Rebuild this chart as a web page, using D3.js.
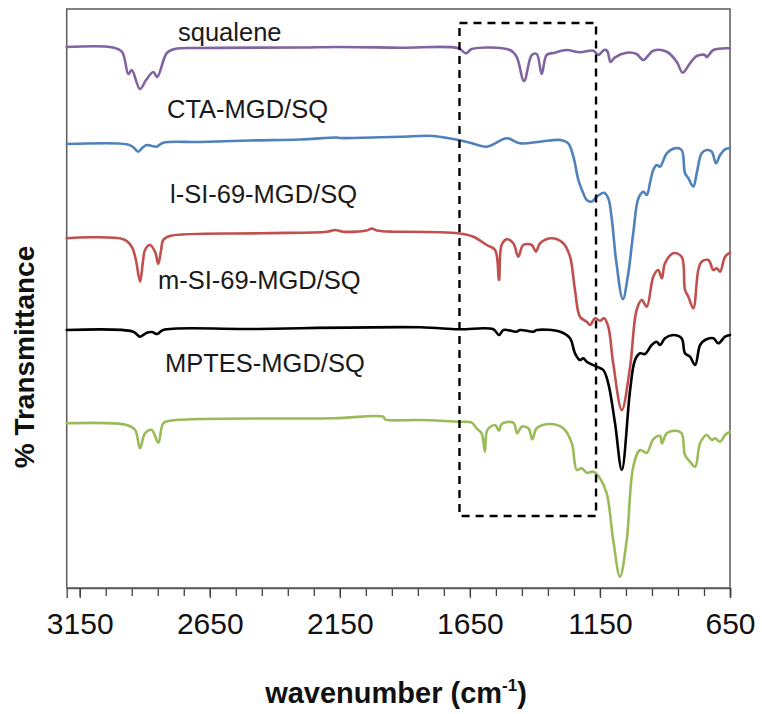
<!DOCTYPE html>
<html>
<head>
<meta charset="utf-8">
<script src="https://cdn.jsdelivr.net/npm/d3@7/dist/d3.min.js"></script>
<style>
  html, body { margin: 0; padding: 0; background: #fff; }
  svg { display: block; font-family: "Liberation Sans", Arial, sans-serif; }
</style>
</head>
<body>
<svg id="chart" width="762" height="714"></svg>
<script>
// FTIR spectra, stacked with vertical offsets (arbitrary transmittance units)
const seriesNames = ["squalene", "CTA-MGD/SQ", "l-SI-69-MGD/SQ", "m-SI-69-MGD/SQ", "MPTES-MGD/SQ"];
const seriesColors = ["#8064A2", "#4F81BD", "#C0504D", "#000000", "#9BBB59"];

const squaleneWn = [3200,3022,2987,2963,2950,2918,2895,2867,2852,2815,2784,2687,2303,2161,1919,1694,1665,1643,1496,1470,1442,1412,1393,1374,1355,1329,1278,1227,1175,1156,1134,1122,1109,1092,1047,1009,983,945,893,855,832,804,778,746,740,714,650];
const squaleneT  = [541,540.5,536,514,518,499,508,516,511,535,539,540,540.5,541,540.3,539.7,534.7,539,538,531,507,533,534,514,533,535,538,535.7,537.3,533,538,537,526,530.7,535.3,534,528,537.3,536.3,526.3,515.3,524.7,532,533,530.7,538,539.7];

const ctaWn = [3200,2969,2945,2925,2910,2892,2872,2854,2829,2687,2495,2303,2161,2149,1919,1791,1694,1650,1585,1508,1457,1380,1303,1272,1252,1233,1214,1201,1182,1162,1134,1118,1104,1088,1062,1042,1022,1002,983,970,957,945,932,919,893,861,836,823,810,791,778,759,740,720,704,688,669,650];
const ctaT  = [444,443.7,441,436.3,440,443,442,441.3,445.3,446,447.5,448.5,450.5,450,451.3,452,448,445.3,441.3,449.7,444.7,446.3,448,444.7,431.3,408,394.7,388,386.3,391.3,395.3,389.7,368,328,288.7,313,354.7,389.7,396.3,393,406,418,423,421.3,434.7,439.7,438,414.7,409.7,401.3,414.7,434.7,438,436.3,424.7,433,438.7,439.7];

const lsiWn = [3200,2982,2950,2934,2918,2907,2899,2880,2860,2848,2837,2829,2803,2457,2200,2168,2137,2047,2027,2008,1944,1919,1694,1637,1585,1553,1538,1528,1508,1483,1464,1445,1412,1396,1380,1335,1291,1265,1246,1227,1201,1188,1169,1150,1134,1118,1099,1066,1034,1009,989,970,945,926,912,900,868,836,823,810,791,772,759,733,714,701,688,669,650];
const lsiT  = [349.7,348.7,341.3,328,306.3,326,338,343,336,324,338,348,352,354.7,356.3,358,356.3,357.5,359.5,357.5,356.3,356.3,354.7,351.3,343,338,308,343,348.7,344.7,331.3,343,343,336.3,344.7,349.7,344.7,331.3,298,271.3,266.3,263,269.7,267.3,269.7,261.3,224.7,178,221.3,278,288,281.3,311.3,318,309.7,324.7,334.7,331.3,298,291.3,279.7,318,326.3,328,318,319.7,316.3,331.3,335.3];

const msiWn = [3200,2944,2918,2892,2872,2852,2829,2495,1842,1694,1560,1538,1521,1470,1457,1406,1393,1303,1265,1246,1227,1214,1201,1162,1137,1118,1092,1066,1034,1015,996,977,951,932,919,900,868,836,823,804,784,765,746,714,695,669,650];
const msiT  = [258,256.3,251.3,255.3,256,254,258,259,260.7,258.7,258.7,253,258,256.3,258,256.3,258,256.3,249.7,234.7,228,229.7,226.3,221.3,218,204.7,164.7,118,198,228,234.7,234,243,246.3,243,249.7,253,249.7,234.7,231.3,223,243,248,249.7,244.7,251.3,253];

const mptesWn = [3200,2969,2937,2918,2899,2873,2848,2829,2803,2175,1983,1976,1842,1694,1643,1624,1605,1592,1583,1553,1538,1528,1483,1468,1451,1425,1410,1393,1342,1291,1258,1239,1220,1201,1175,1150,1124,1099,1073,1047,1022,996,970,945,919,912,893,861,836,823,804,784,765,740,720,708,688,669,650];
const mptesT  = [164.7,163,158,139.7,154.7,158,145.3,164.7,167.3,169.7,171.3,168.7,168,166.3,165.3,159.7,154.7,136.3,158,163,157.3,164,165.3,154.7,161.3,159.7,148.7,159.7,164,159.7,144.7,118,119.7,115.3,116.3,109.7,94.7,48,11.3,48,121.3,138,135.3,148.7,152,144.7,154.7,157.3,154.7,133,126.3,121.3,144.7,153,148,149.7,146.3,153,156.3];

const spectraWn = [squaleneWn, ctaWn, lsiWn, msiWn, mptesWn];
const spectraT  = [squaleneT, ctaT, lsiT, msiT, mptesT];

// x axis: reversed wavenumber scale
const xDomain = [3200, 650];
const xTickValues = [3150, 2650, 2150, 1650, 1150, 650];
const xMinorStep = 100;
// highlighted region (wavenumber range, transmittance range)
const boxWn = [1690, 1165];
const boxT = [72, 565];

const svg = d3.select("#chart");
const W = 762, H = 714;
const plot = { left: 66.7, right: 730, top: 9, bottom: 588 };

svg.append("rect").attr("width", W).attr("height", H).attr("fill", "#fff");

const x = d3.scaleLinear().domain(xDomain).range([plot.left, plot.right]);
const y = d3.scaleLinear().domain([0, plot.bottom - plot.top]).range([plot.bottom, plot.top]);

// plot frame
svg.append("rect")
  .attr("x", plot.left).attr("y", plot.top)
  .attr("width", plot.right - plot.left).attr("height", plot.bottom - plot.top)
  .attr("fill", "none").attr("stroke", "#595959").attr("stroke-width", 1.5);

// minor ticks
const minorTicks = d3.range(xTickValues[0], xDomain[1] - 1, -xMinorStep);
svg.append("g").attr("transform", `translate(0,${plot.bottom})`)
  .call(d3.axisBottom(x).tickValues(minorTicks).tickSize(8).tickFormat(""))
  .call(g => g.select(".domain").remove())
  .call(g => g.selectAll("line").attr("stroke", "#404040").attr("stroke-width", 1.3));

// major ticks + labels
svg.append("g").attr("transform", `translate(0,${plot.bottom})`)
  .call(d3.axisBottom(x).tickValues(xTickValues).tickSize(10).tickPadding(15).tickFormat(d3.format("d")))
  .call(g => g.select(".domain").attr("stroke", "#595959").attr("stroke-width", 1.5))
  .call(g => g.selectAll("line").attr("stroke", "#404040").attr("stroke-width", 1.3))
  .call(g => g.selectAll("text")
    .attr("font-family", "'Liberation Sans', Arial, sans-serif")
    .attr("font-size", 30).attr("fill", "#111"));

// spectra
const line = d3.line()
  .x(d => x(d[0])).y(d => y(d[1]))
  .curve(d3.curveCatmullRom.alpha(0.5));

spectraWn.forEach((wn, i) => {
  const pts = wn.map((w, k) => [w, spectraT[i][k]]);
  svg.append("path")
    .datum(pts)
    .attr("d", line)
    .attr("fill", "none")
    .attr("stroke", seriesColors[i])
    .attr("stroke-width", 2.6)
    .attr("stroke-linejoin", "round")
    .attr("stroke-linecap", "round");
});

// dashed highlight box
svg.append("rect")
  .attr("x", x(boxWn[0])).attr("y", y(boxT[1]))
  .attr("width", x(boxWn[1]) - x(boxWn[0]))
  .attr("height", y(boxT[0]) - y(boxT[1]))
  .attr("fill", "none").attr("stroke", "#000")
  .attr("stroke-width", 2.4).attr("stroke-dasharray", "8,6");

// series labels
const labelPos = [[178, 41], [167, 118], [170, 203], [158, 289], [165, 372]];
seriesNames.forEach((name, i) => {
  svg.append("text")
    .attr("x", labelPos[i][0]).attr("y", labelPos[i][1])
    .attr("font-size", 25.5).attr("fill", "#1a1a1a")
    .text(name);
});

// axis titles
svg.append("text")
  .attr("transform", `translate(34,357) rotate(-90)`)
  .attr("text-anchor", "middle")
  .attr("font-size", 28).attr("font-weight", "bold").attr("fill", "#111")
  .text("% Transmittance");

const xt = svg.append("text")
  .attr("x", 396).attr("y", 703)
  .attr("text-anchor", "middle")
  .attr("font-size", 29).attr("font-weight", "bold").attr("fill", "#111");
xt.append("tspan").text("wavenumber (cm");
xt.append("tspan").attr("font-size", 17).attr("dy", -12).text("-1");
xt.append("tspan").attr("dy", 12).text(")");
</script>
</body>
</html>
